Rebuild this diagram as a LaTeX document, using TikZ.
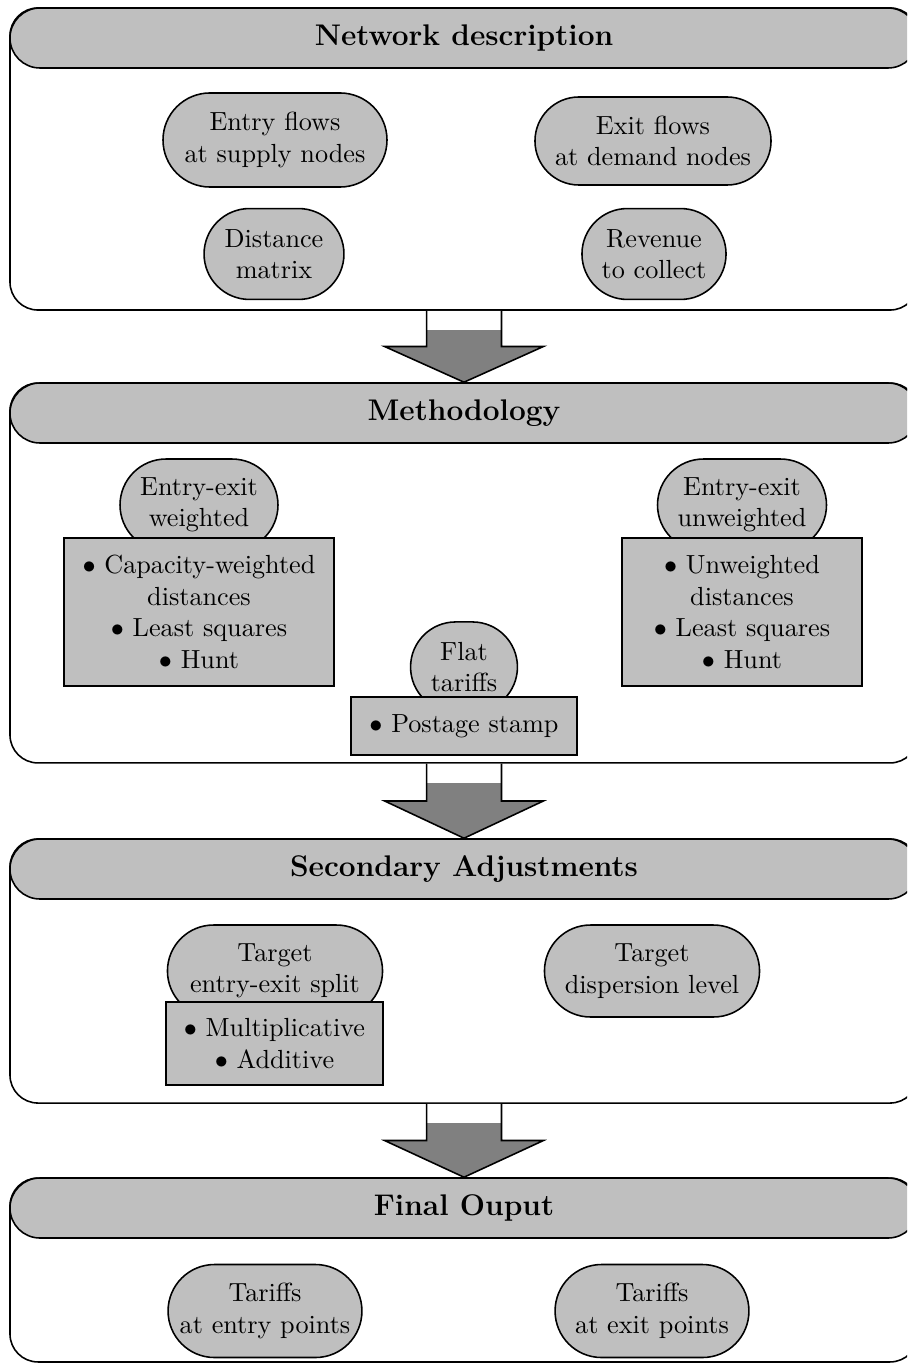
\documentclass[tikz,border=0pt]{standalone}
\usetikzlibrary{shapes.misc,positioning,calc}
\begin{document}
\begin{tikzpicture}[x=0.3817pt, y=-0.3817pt,
    header/.style={rounded rectangle, draw, semithick, fill=gray!50, inner sep=0pt, minimum width=346.6pt, minimum height=22.9pt, font=\fontsize{11.4}{13}\selectfont\bfseries},
    panel/.style={rectangle, rounded corners=10.7pt, draw, semithick, fill=white, minimum width=346.6pt},
    bubble/.style={rounded rectangle, draw, semithick, fill=gray!50, align=center, inner sep=0pt},
    listbox/.style={rectangle, draw, semithick, fill=gray!50, align=center, inner sep=0pt}]
    \useasboundingbox (0,0) rectangle (907,1364);
    \clip (0,0) rectangle (907,1364);

    \node (panel1) [panel, minimum height=115.3pt] at (464,159) {};
    \node (panel2) [panel, minimum height=145.0pt] at (464,573) {};
    \node (panel3) [panel, minimum height=100.8pt] at (464,971) {};
    \node (panel4) [panel, minimum height=70.2pt] at (464,1270) {};

    \node (head1) [header] at (464,38) {Network description};
    \node (head2) [header] at (464,413) {Methodology};
    \node (head3) [header] at (464,869) {Secondary Adjustments};
    \node (head4) [header] at (464,1208) {Final Ouput};

    \foreach \a/\b in {panel1/head2, panel2/head3, panel3/head4} {
        \fill [gray] let \p1=(\a.south), \p2=(\b.north) in
            (\x1-14.3pt,\y1) -- (\x1-14.3pt,{(\y1+\y2)/2}) -- (\x1-30.3pt,{(\y1+\y2)/2}) -- (\x2,\y2)
            -- (\x1+30.3pt,{(\y1+\y2)/2}) -- (\x1+14.3pt,{(\y1+\y2)/2}) -- (\x1+14.3pt,\y1) -- cycle;
        \fill [white] let \p1=(\a.south) in (\x1-14.3pt,\y1) rectangle (\x1+14.3pt,\y1-7.25pt);
        \draw [semithick, line join=miter] let \p1=(\a.south), \p2=(\b.north) in
            (\x1-14.3pt,\y1) -- (\x1-14.3pt,{(\y1+\y2)/2}) -- (\x1-30.3pt,{(\y1+\y2)/2}) -- (\x2,\y2)
            -- (\x1+30.3pt,{(\y1+\y2)/2}) -- (\x1+14.3pt,{(\y1+\y2)/2}) -- (\x1+14.3pt,\y1);
    }

    \node (entry) [bubble, minimum width=85.5pt, minimum height=35.9pt] at (275,140) {Entry flows\\at supply nodes};
    \node (exit) [bubble, minimum width=90.1pt, minimum height=33.6pt] at (653,141) {Exit flows\\at demand nodes};
    \node (dist) [bubble, minimum width=53.4pt, minimum height=34.7pt] at (274,254) {Distance\\matrix};
    \node (rev) [bubble, minimum width=55pt, minimum height=34.7pt] at (654,254) {Revenue\\to collect};

    \node (wtd) [bubble, minimum width=60.3pt, minimum height=35.1pt] at (199,505) {Entry-exit\\weighted};
    \node (wtdlist) [listbox, minimum width=103pt, minimum height=56.5pt] at (199,612)
        {$\bullet$ Capacity-weighted\\distances\\$\bullet$ Least squares\\$\bullet$ Hunt};
    \node (unw) [bubble, minimum width=64.5pt, minimum height=35.1pt] at (742,505) {Entry-exit\\unweighted};
    \node (unwlist) [listbox, minimum width=91.6pt, minimum height=56.5pt] at (742,612)
        {$\bullet$ Unweighted\\distances\\$\bullet$ Least squares\\$\bullet$ Hunt};
    \node (flat) [bubble, minimum width=40.8pt, minimum height=34.4pt] at (464,667) {Flat\\tariffs};
    \node (flatlist) [listbox, minimum width=86.3pt, minimum height=22.1pt] at (464,726) {$\bullet$ Postage stamp};

    \node (split) [bubble, minimum width=82.1pt, minimum height=35.1pt] at (275,971) {Target\\entry-exit split};
    \node (splitlist) [listbox, minimum width=82.8pt, minimum height=31.7pt] at (274.5,1043.5)
        {$\bullet$ Multiplicative\\$\bullet$ Additive};
    \node (disp) [bubble, minimum width=82.1pt, minimum height=35.1pt] at (652,971) {Target\\dispersion level};

    \node (tentry) [bubble, minimum width=74pt, minimum height=35.5pt] at (265,1311) {Tariffs\\at entry points};
    \node (texit) [bubble, minimum width=74pt, minimum height=35.5pt] at (652,1311) {Tariffs\\at exit points};
\end{tikzpicture}
\end{document}
